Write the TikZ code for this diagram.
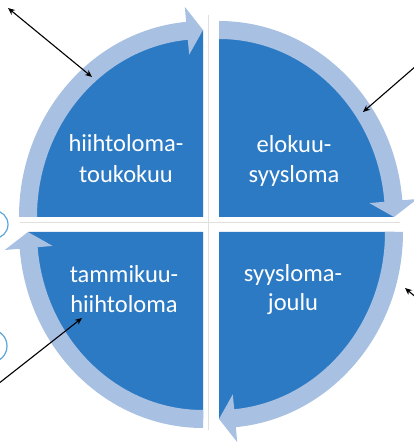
\documentclass[tikz,border=0pt]{standalone}
\usepackage{fontspec}
\setmainfont{Carlito}
\usetikzlibrary{arrows.meta,calc}
\definecolor{pieblue}{RGB}{44,122,196}
\definecolor{bandblue}{RGB}{168,192,226}
\definecolor{ringblue}{RGB}{90,165,220}
% corner, start angle, shortened end angle, edge angle
\newcommand\qband[4]{%
  \fill[band] ($(#1)+(#2:184pt and 196pt)$)
    arc[start angle=#2,end angle=#3,x radius=184pt,y radius=196pt]
    -- ($(#1)+(#3:199pt and 211pt)$)
    -- ($(#1)+(#4:175pt and 187pt)$)
    -- ($(#1)+(#3:151pt and 163pt)$)
    -- ($(#1)+(#3:166pt and 178pt)$)
    arc[start angle=#3,end angle=#2,x radius=166pt,y radius=178pt]
    -- cycle;}
\newcommand\qpie[3]{%
  \fill[pie] (#1) -- ($(#1)+(#2:175pt and 187pt)$)
    arc[start angle=#2,end angle=#3,x radius=175pt,y radius=187pt] -- cycle;}
\begin{document}
\begin{tikzpicture}[x=1pt,y=1pt,
  pie/.style={fill=pieblue},
  band/.style={fill=bandblue},
  lbl/.style={text=white,font=\fontsize{24.5}{30}\selectfont,anchor=base,inner sep=0pt},
  pointer/.style={draw=black,line width=1.1pt,-{Stealth[length=7pt,width=6pt]}},
  dpointer/.style={draw=black,line width=1.1pt,{Stealth[length=7pt,width=6pt]}-{Stealth[length=7pt,width=6pt]}},
  ring/.style={draw=ringblue,line width=1.2pt},
  framel/.style={draw=black!12,line width=0.7pt}]
\path[use as bounding box] (0,0) rectangle (414,445);
\clip (0,0) rectangle (414,445);
% faint frame lines
\coordinate (fh1) at (20,223); \coordinate (fh2) at (400,223);
\coordinate (fv1) at (208,15); \coordinate (fv2) at (208,430);
\draw[framel] (fh1) -- (fh2);
\draw[framel] (fv1) -- (fv2);
% quadrant corners
\coordinate (tl) at (203,228);
\coordinate (tr) at (219,228);
\coordinate (br) at (219,213);
\coordinate (bl) at (203,213);
% pies
\qpie{tl}{180}{90}
\qpie{tr}{90}{0}
\qpie{br}{0}{-90}
\qpie{bl}{-90}{-180}
% arrow bands
\qband{tl}{180}{95.25}{90}
\qband{tr}{90}{4.9}{0}
\qband{br}{0}{-84.75}{-90}
\qband{bl}{-90}{-175.1}{-180}
% labels
\node[lbl] (t1a) at (126,293) {hiihtoloma-};
\node[lbl] (t1b) at (126,262) {toukokuu};
\node[lbl] (t2a) at (294,292) {elokuu-};
\node[lbl] (t2b) at (294,262) {syysloma};
\node[lbl] (t3a) at (124,162) {tammikuu-};
\node[lbl] (t3b) at (124,132) {hiihtoloma};
\node[lbl] (t4a) at (293,163) {syysloma-};
\node[lbl] (t4b) at (293,134) {joulu};
% pointers
\coordinate (p1a) at (8,437); \coordinate (p1b) at (92,368);
\draw[dpointer] (p1a) -- (p1b);
\coordinate (p2a) at (416,379); \coordinate (p2b) at (363,333);
\draw[pointer] (p2a) -- (p2b);
\coordinate (p3a) at (418,146); \coordinate (p3b) at (405,157);
\draw[pointer] (p3a) -- (p3b);
\coordinate (p4a) at (-2,61); \coordinate (p4b) at (82,127);
\draw[pointer] (p4a) -- (p4b);
% partial rings at left edge
\coordinate (r1) at (-6,220.5); \coordinate (r2) at (-9.5,99);
\draw[ring] (r1) circle[radius=14pt];
\draw[ring] (r2) circle[radius=16.5pt];
\end{tikzpicture}
\end{document}
